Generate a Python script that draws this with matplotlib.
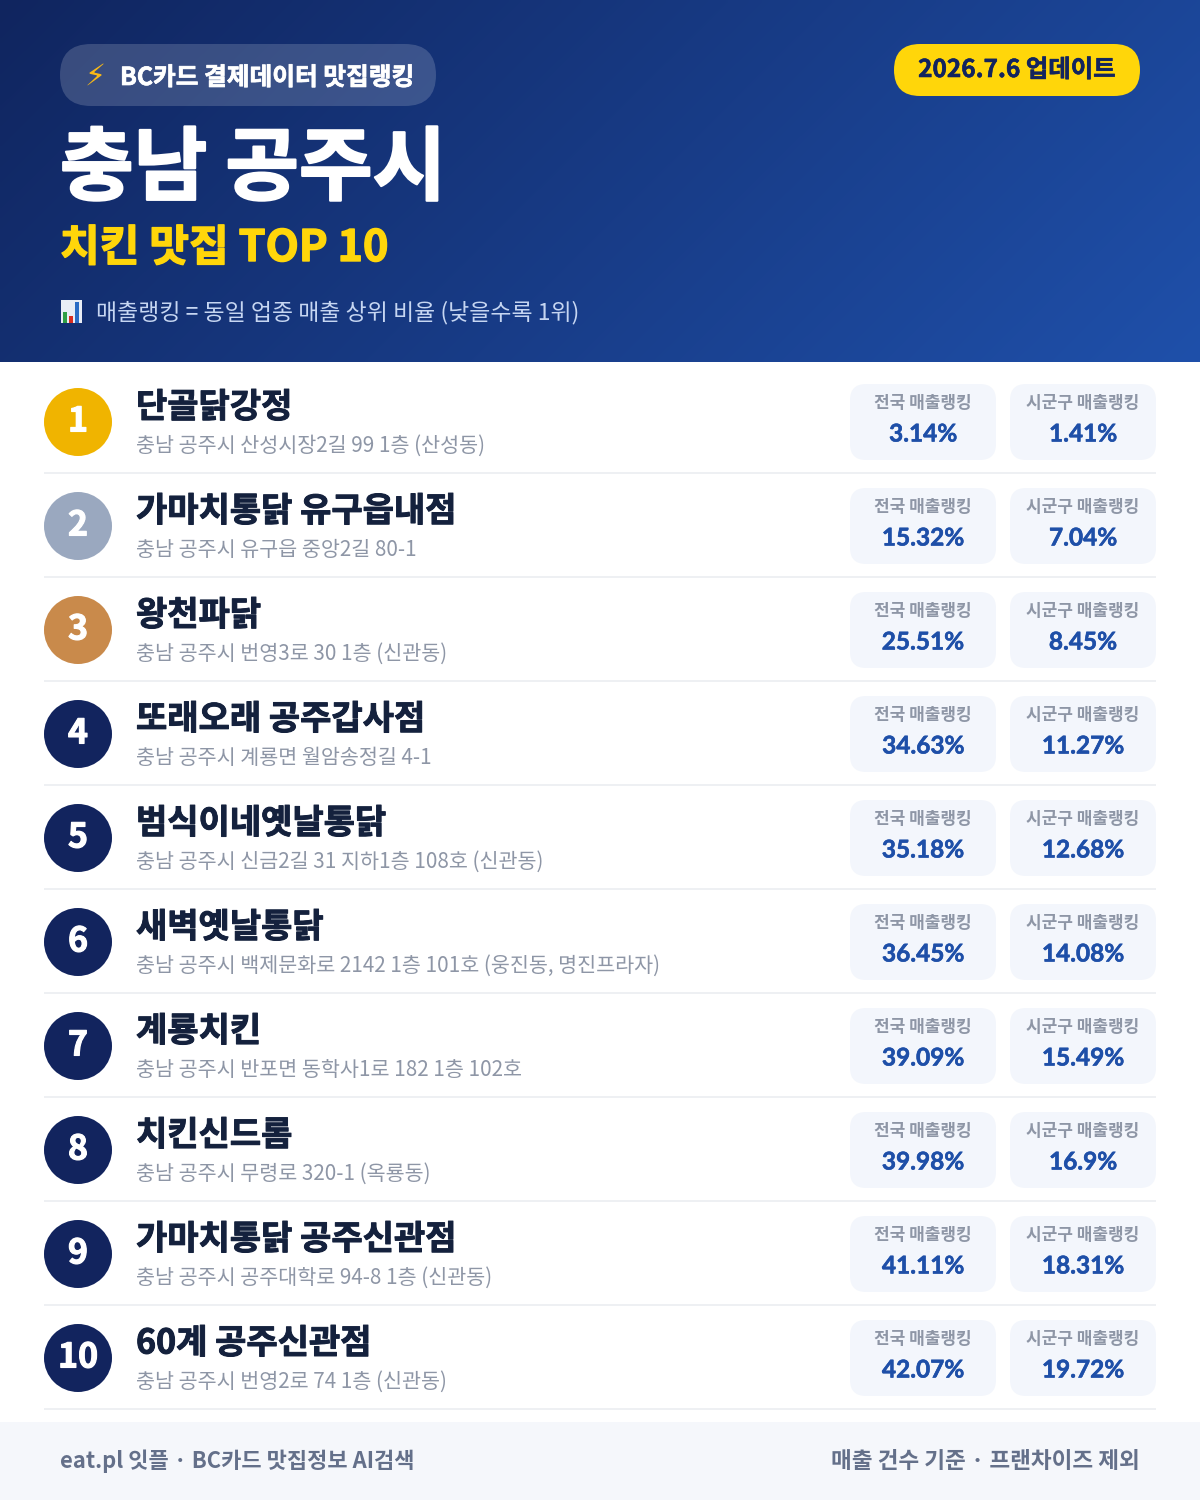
import numpy as np
import matplotlib
matplotlib.use('Agg')
import matplotlib.pyplot as plt
import matplotlib.patheffects as pe
from matplotlib.patches import FancyBboxPatch, Circle, Rectangle

plt.rcParams['font.family'] = ['Noto Sans CJK KR', 'DejaVu Sans']

# data
names = ['단골닭강정', '가마치통닭 유구읍내점', '왕천파닭', '또래오래 공주갑사점', '범식이네옛날통닭',
         '새벽옛날통닭', '계룡치킨', '치킨신드롬', '가마치통닭 공주신관점', '60계 공주신관점']
addresses = ['충남 공주시 산성시장2길 99 1층 (산성동)',
             '충남 공주시 유구읍 중앙2길 80-1',
             '충남 공주시 번영3로 30 1층 (신관동)',
             '충남 공주시 계룡면 월암송정길 4-1',
             '충남 공주시 신금2길 31 지하1층 108호 (신관동)',
             '충남 공주시 백제문화로 2142 1층 101호 (웅진동, 명진프라자)',
             '충남 공주시 반포면 동학사1로 182 1층 102호',
             '충남 공주시 무령로 320-1 (옥룡동)',
             '충남 공주시 공주대학로 94-8 1층 (신관동)',
             '충남 공주시 번영2로 74 1층 (신관동)']
national = [3.14, 15.32, 25.51, 34.63, 35.18, 36.45, 39.09, 39.98, 41.11, 42.07]
local = [1.41, 7.04, 8.45, 11.27, 12.68, 14.08, 15.49, 16.9, 18.31, 19.72]
badge_colors = ['#f0b400', '#9aa8bf', '#c98a4b'] + ['#12245e'] * 7


def px(size):
    # css pixels to points at dpi 100
    return size * 0.72


def heavy(color, lw=0.6):
    # the font stops at bold, thicken it a little
    return [pe.withStroke(linewidth=lw, foreground=color)]


def round_box(x0, y0, x1, y1, r, **kw):
    p = FancyBboxPatch((x0 + r, y0 + r), x1 - x0 - 2 * r, y1 - y0 - 2 * r,
                       boxstyle='round,pad=%f,rounding_size=%f' % (r, r), linewidth=0, **kw)
    ax.add_patch(p)


fig = plt.figure(figsize=(12, 15), dpi=100)
ax = fig.add_axes([0, 0, 1, 1])
ax.set_xlim(0, 1200)
ax.set_ylim(1500, 0)
ax.axis('off')

# header gradient
gx, gy = np.meshgrid(np.linspace(0, 1, 300), np.linspace(0, 1, 90))
t = (gx * 1200 + gy * 362) / (1200 + 362)
c0 = np.array([0x10, 0x25, 0x5f]) / 255
c1 = np.array([0x1f, 0x50, 0xaa]) / 255
grad = c0 + (c1 - c0) * t[..., None]
ax.imshow(grad, extent=(0, 1200, 362, 0), aspect='auto', zorder=0, interpolation='bilinear')
ax.set_xlim(0, 1200)
ax.set_ylim(1500, 0)

# header
round_box(60, 44, 436, 106, 31, facecolor='white', alpha=0.17, zorder=1)
ax.text(95, 76, '⚡', fontsize=px(30), color='#f9b916', ha='center', va='center', family='DejaVu Sans', zorder=2)
ax.text(120, 78, 'BC카드 결제데이터 맛집랭킹', fontsize=px(24.7), color='white', weight=900, va='center', zorder=2,
        path_effects=heavy('white', 0.5))
round_box(894, 44, 1140, 96, 26, facecolor='#ffd60a', zorder=1)
ax.text(1017, 70, '2026.7.6 업데이트', fontsize=px(24.4), color='#12245e', weight=900, ha='center', va='center', zorder=2,
        path_effects=heavy('#12245e', 0.4))
ax.text(60, 170, '충남 공주시', fontsize=px(80), color='white', weight=900, va='center', zorder=2,
        path_effects=heavy('white', 1.6))
ax.text(60, 248, '치킨 맛집 TOP 10', fontsize=px(43.2), color='#ffd60a', weight=900, va='center', zorder=2,
        path_effects=heavy('#ffd60a', 1.0))

# small chart icon
ax.add_patch(Rectangle((61, 300), 21, 23, facecolor='#e9edf5', linewidth=0, zorder=2))
ax.add_patch(Rectangle((63, 312), 4, 11, facecolor='#2f9e44', linewidth=0, zorder=3))
ax.add_patch(Rectangle((69, 316), 4, 7, facecolor='#d92d20', linewidth=0, zorder=3))
ax.add_patch(Rectangle((75, 302), 4, 21, facecolor='#2b6cc4', linewidth=0, zorder=3))
ax.text(96, 313, '매출랭킹 = 동일 업종 매출 상위 비율 (낮을수록 1위)', fontsize=px(22.9), color='#c6d6f2', va='center', zorder=2)

# rows
for i in range(len(names)):
    y = 104 * i
    ax.add_patch(Circle((78, 422 + y), 34, facecolor=badge_colors[i], linewidth=0, zorder=1))
    ax.text(78, 421 + y, str(i + 1), fontsize=px(34), color='white', weight=900, ha='center', va='center', zorder=2,
            path_effects=heavy('white', 0.8))
    ax.text(136, 407 + y, names[i], fontsize=px(34), color='#14213d', weight=900, va='center', zorder=2,
            path_effects=heavy('#14213d', 0.7))
    ax.text(136, 446 + y, addresses[i], fontsize=px(20.7), color='#8e96a6', va='center', zorder=2)
    for x0, x1, label, val in [(850, 996, '전국 매출랭킹', national[i]), (1010, 1156, '시군구 매출랭킹', local[i])]:
        xc = (x0 + x1) / 2
        round_box(x0, 384 + y, x1, 460 + y, 16, facecolor='#f3f6fc', zorder=1)
        ax.text(xc, 403 + y, label, fontsize=px(17), color='#8e96a6', weight='bold', ha='center', va='center', zorder=2)
        ax.text(xc, 434 + y, '%g%%' % val, fontsize=px(24.4), color='#1e4fa8', weight='bold', ha='center', va='center',
                family='Lato', zorder=2, path_effects=heavy('#1e4fa8', 0.4))
    ax.add_patch(Rectangle((44, 472 + y), 1112, 2, facecolor='#eef0f3', linewidth=0, zorder=1))

# footer
ax.add_patch(Rectangle((0, 1422), 1200, 78, facecolor='#f5f7fb', linewidth=0, zorder=1))
ax.text(60, 1461, 'eat.pl 잇플 · BC카드 맛집정보 AI검색', fontsize=px(22), color='#64708a', weight='bold', va='center', zorder=2)
ax.text(1140, 1461, '매출 건수 기준 · 프랜차이즈 제외', fontsize=px(22.6), color='#64708a', weight='bold', ha='right', va='center', zorder=2)

fig.savefig('out.png', dpi=100)
